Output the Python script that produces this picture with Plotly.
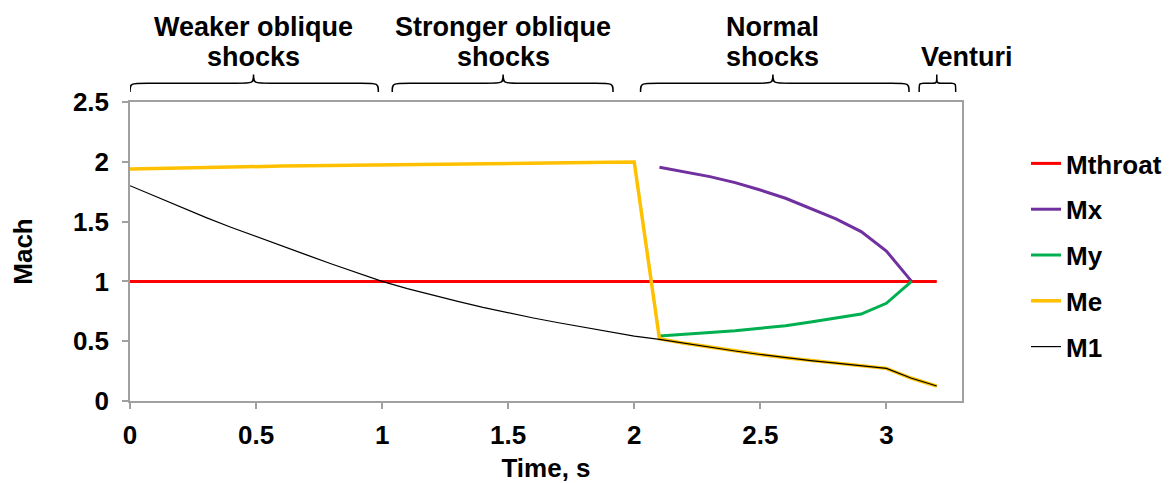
import plotly.graph_objects as go

# ---- data ----
time = [0.0, 0.1, 0.2, 0.3, 0.4, 0.5, 0.6, 0.7, 0.8, 0.9, 1.0,
        1.1, 1.2, 1.3, 1.4, 1.5, 1.6, 1.7, 1.8, 1.9, 2.0,
        2.1, 2.2, 2.3, 2.4, 2.5, 2.6, 2.7, 2.8, 2.9, 3.0, 3.1, 3.2]

m_throat = [1.0] * 33

time_shock = [2.1, 2.2, 2.3, 2.4, 2.5, 2.6, 2.7, 2.8, 2.9, 3.0, 3.1]
m_x = [1.954, 1.917, 1.876, 1.826, 1.764, 1.695, 1.611, 1.522, 1.416, 1.254, 1.0]
m_y = [0.543, 0.557, 0.571, 0.588, 0.608, 0.630, 0.660, 0.691, 0.727, 0.817, 1.0]

m_e = [1.940, 1.945, 1.950, 1.954, 1.958, 1.961, 1.964, 1.967, 1.970, 1.972, 1.975,
       1.977, 1.979, 1.982, 1.984, 1.986, 1.989, 1.991, 1.993, 1.996, 1.998,
       0.520, 0.482, 0.449, 0.418, 0.389, 0.362, 0.338, 0.316, 0.294, 0.273, 0.190, 0.125]

m_1 = [1.800, 1.710, 1.620, 1.535, 1.453, 1.374, 1.297, 1.222, 1.145, 1.070, 1.000,
       0.940, 0.885, 0.833, 0.783, 0.736, 0.694, 0.654, 0.615, 0.578, 0.542,
       0.516, 0.482, 0.449, 0.418, 0.389, 0.362, 0.338, 0.316, 0.294, 0.273, 0.190, 0.125]

y_ticks = [0, 0.5, 1, 1.5, 2, 2.5]
y_tick_text = ["0", "0.5", "1", "1.5", "2", "2.5"]
x_ticks = [0, 0.5, 1, 1.5, 2, 2.5, 3]
x_tick_text = ["0", "0.5", "1", "1.5", "2", "2.5", "3"]

# regime labels above the plot: (first line, second line, brace start, brace tip, brace end)
regimes = [
    ("Weaker oblique", "shocks", 0.0, 0.49, 0.985),
    ("Stronger oblique", "shocks", 1.04, 1.48, 1.916),
    ("Normal", "shocks", 2.025, 2.55, 3.09),
    ("", "Venturi", 3.13, 3.2, 3.275),
]

# ---- layout geometry (page pixels; the page body adds an 8px offset) ----
OFF = 8
W, H = 1175 - OFF, 483 - OFF
PLOT_L, PLOT_R, PLOT_T, PLOT_B = 130, 962, 102, 401   # in page pixels
ML, MR = PLOT_L - OFF, W - (PLOT_R - OFF)
MT, MB = PLOT_T - OFF, H - (PLOT_B - OFF)
PW = W - ML - MR
PH = H - MT - MB
X_MAX = 3.3
FONT = "Liberation Sans, Arial, sans-serif"
FS = 26
AXIS_GRAY = "#A0A0A0"


def paper_y(py):
    """convert a page pixel row to a paper y fraction"""
    return (PLOT_B - py) / PH


def paper_x(px):
    return (px - PLOT_L) / PW


def bold(size=FS):
    return dict(family=FONT, size=size, color="black", weight="bold")


fig = go.Figure()

series = [
    ("Mthroat", time, m_throat, "#FF0000", 3),
    ("Mx", time_shock, m_x, "#7030A0", 3),
    ("My", time_shock, m_y, "#00B050", 3),
    ("Me", time, m_e, "#FFC000", 3.5),
    ("M1", time, m_1, "#000000", 1.2),
]
for name, xs, ys, color, w in series:
    fig.add_trace(go.Scatter(
        x=xs, y=ys, name=name, mode="lines", legendgroup=name,
        line=dict(color=color, width=w),
    ))

shapes = []
annotations = []
y_end, y_flat, y_tip = paper_y(92), paper_y(83.3), paper_y(74.5)
for line1, line2, xa, xm, xb in regimes:
    span = xb - xa
    d = min(0.07, span * 0.12)
    path = (
        f"M {xa},{y_end} C {xa},{y_flat} {xa},{y_flat} {xa + d},{y_flat} "
        f"L {xm - d},{y_flat} C {xm},{y_flat} {xm},{y_flat} {xm},{y_tip} "
        f"C {xm},{y_flat} {xm},{y_flat} {xm + d},{y_flat} "
        f"L {xb - d},{y_flat} C {xb},{y_flat} {xb},{y_flat} {xb},{y_end}"
    )
    shapes.append(dict(type="path", xref="x", yref="paper", path=path,
                       line=dict(color="black", width=1.5)))
    if line1:
        annotations.append(dict(text=line1, xref="paper", yref="paper",
                                x=xm / X_MAX, y=paper_y(27),
                                showarrow=False, xanchor="center", yanchor="middle",
                                font=bold(27)))
    cx = xm / X_MAX if line1 else paper_x(967)
    annotations.append(dict(text=line2, xref="paper", yref="paper", x=cx, y=paper_y(57),
                            showarrow=False, xanchor="center", yanchor="middle",
                            font=bold(27)))

fig.update_layout(
    width=W, height=H,
    margin=dict(l=ML, r=MR, t=MT, b=MB, autoexpand=False),
    paper_bgcolor="white", plot_bgcolor="white",
    font=bold(),
    showlegend=True,
    legend=dict(x=paper_x(1026), xanchor="left", y=paper_y(140), yanchor="top",
                font=bold(), tracegroupgap=9, bgcolor="rgba(0,0,0,0)"),
    shapes=shapes,
    annotations=annotations,
    xaxis=dict(
        range=[0, X_MAX], tickvals=x_ticks, ticktext=x_tick_text, automargin=False,
        showgrid=False, zeroline=False, showline=True, linecolor=AXIS_GRAY, linewidth=1.5,
        mirror=True, ticks="outside", ticklen=6, tickcolor=AXIS_GRAY, tickwidth=1.5,
        ticklabelstandoff=4,
        tickfont=bold(),
        title=dict(text="Time, s", standoff=12, font=bold()),
    ),
    yaxis=dict(
        range=[0, 2.5], tickvals=y_ticks, ticktext=y_tick_text, automargin=False,
        showgrid=False, zeroline=False, showline=True, linecolor=AXIS_GRAY, linewidth=1.5,
        mirror=True, ticks="outside", ticklen=6, tickcolor=AXIS_GRAY, tickwidth=1.5,
        ticklabelstandoff=8,
        tickfont=bold(),
        title=dict(text="Mach", standoff=34, font=bold()),
    ),
)

fig.write_html("out.html")
